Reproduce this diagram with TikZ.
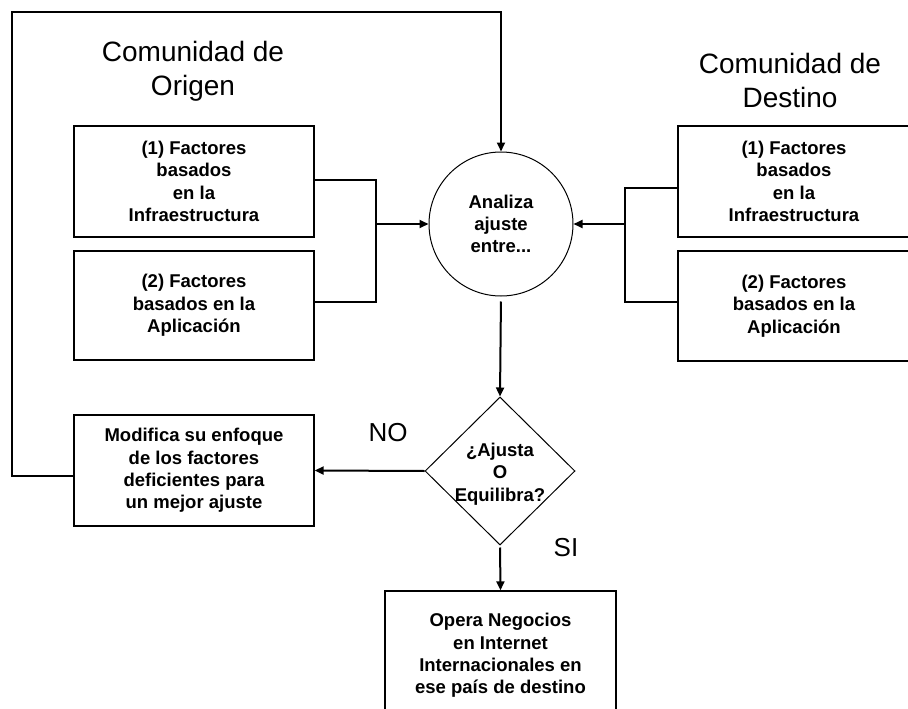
\documentclass[tikz,border=0pt]{standalone}
\usepackage{fontspec}
\setmainfont{Liberation Sans}
\usetikzlibrary{arrows.meta,shapes.geometric}
\tikzset{
  factorbox/.style={draw, line width=1.3pt, inner sep=0pt, align=center,
    minimum width=240pt, minimum height=111pt,
    font=\fontsize{18.5}{22.3}\selectfont\bfseries},
  boldtext/.style={align=center, inner sep=0pt,
    font=\fontsize{18.5}{22.3}\selectfont\bfseries},
  title/.style={align=center, inner sep=0pt,
    font=\fontsize{28}{34}\selectfont},
  branch/.style={font=\fontsize{26}{30}\selectfont, inner sep=0pt},
  conn/.style={line width=2pt},
  arrowconn/.style={line width=2pt, -{Triangle[length=9pt,width=8pt]}},
}
\begin{document}
\begin{tikzpicture}[x=1pt,y=-1pt]
  \clip (0,0) rectangle (908,709);

  % community titles
  \node[title] (torig) at (193,71) {Comunidad de\\Origen};
  \node[title] (tdest) at (790,80) {Comunidad de\\Destino};

  % factor boxes of the home community
  \node[factorbox] (ob1) at (194,181.5) {(1) Factores\\basados\\en la\\Infraestructura};
  \node[factorbox, minimum height=109pt] (ob2) at (194,305.5) {(2) Factores\\basados en la\\Aplicaci\'on};

  % factor boxes of the target community (running off the right edge)
  \node[factorbox, minimum width=232pt] (db1) at (794,181.5) {(1) Factores\\basados\\en la\\Infraestructura};
  \node[factorbox, minimum width=232pt, minimum height=110pt] (db2) at (794,306) {(2) Factores\\basados en la\\Aplicaci\'on};

  % analysis circle
  \node[draw, circle, line width=1pt, minimum size=144pt, inner sep=0pt,
        boldtext] (an) at (501,224) {Analiza\\ajuste\\entre...};

  % decision diamond
  \node[draw, diamond, line width=1pt, inner sep=0pt, minimum width=150pt,
        minimum height=148pt] (dec) at (500,471) {};
  \node[boldtext] (dect) at (500,474) {¿Ajusta\\O\\Equilibra?};

  % outcome boxes
  \node[factorbox] (mod) at (194,470.5) {Modifica su enfoque\\de los factores\\deficientes para\\un mejor ajuste};
  \node[factorbox, minimum width=231pt, minimum height=129pt] (ops) at (500.5,655.5)
    {Opera Negocios\\en Internet\\Internacionales en\\ese pa\'is de destino};

  % branch labels
  \node[branch] (lno) at (388,433) {NO};
  \node[branch] (lsi) at (566,548) {SI};

  % junctions
  \coordinate (jl) at (376,224);
  \coordinate (jr) at (625,224);
  \coordinate (tl) at (12,12);

  % left group into the circle
  \draw[conn] ([yshift=2pt]ob1.east) -| (jl) |- ([yshift=4pt]ob2.east);
  \draw[arrowconn] (jl) -- (an.west);

  % right group into the circle
  \draw[conn] ([yshift=-6pt]db1.west) -| (jr) |- ([yshift=4pt]db2.west);
  \draw[arrowconn] (jr) -- (an.east);

  % circle to decision
  \draw[arrowconn, shorten <=5pt] (an.south) -- (dec.north);

  % NO branch
  \draw[arrowconn] (dec.west) -- (mod.east);

  % SI branch
  \draw[arrowconn, shorten <=2pt] (dec.south) -- (ops.north);

  % feedback loop back to the analysis
  \draw[arrowconn] ([yshift=-5.5pt]mod.west) -- ([yshift=-5.5pt]mod.west -| tl)
    -- (tl) -| (an.north);
\end{tikzpicture}
\end{document}
